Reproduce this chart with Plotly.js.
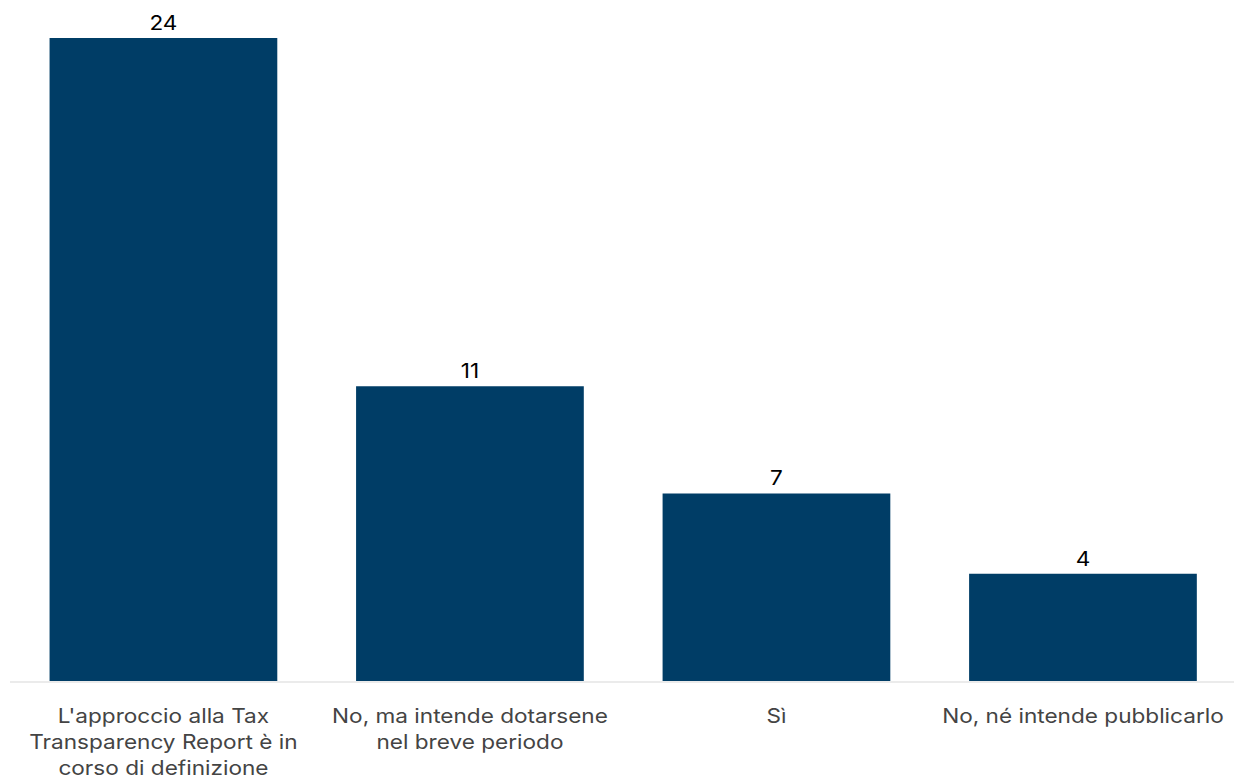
<!DOCTYPE html>
<html>
<head>
<meta charset="utf-8">
<script src="https://cdn.plot.ly/plotly-3.0.1.min.js"></script>
<style>
html,body{margin:0;padding:0;background:#fff;overflow:hidden;}
#wrap{width:1234px;height:781px;overflow:hidden;}
#chart{width:1094px;height:781px;transform:scaleX(1.13);transform-origin:0 0;}
</style>
</head>
<body>
<div id="wrap"><div id="chart"></div></div>
<script>
const categories = [
  "L'approccio alla Tax<br>Transparency Report è in<br>corso di definizione",
  "No, ma intende dotarsene<br>nel breve periodo",
  "Sì",
  "No, né intende pubblicarlo"
];
const values = [24, 11, 7, 4];

const trace = {
  type: 'bar',
  x: categories,
  y: values,
  text: values.map(String),
  textposition: 'outside',
  cliponaxis: false,
  textfont: {family: 'Inter, sans-serif', size: 20, color: '#000000'},
  marker: {color: '#003D66'},
  hoverinfo: 'skip'
};

const layout = {
  width: 1094,
  height: 781,
  margin: {l: 8.6, r: 0, t: 38, b: 100},
  paper_bgcolor: '#ffffff',
  plot_bgcolor: '#ffffff',
  bargap: 0.257,
  showlegend: false,
  font: {family: 'Inter, sans-serif'},
  xaxis: {
    type: 'category',
    showline: true,
    linecolor: '#ebebeb',
    linewidth: 2,
    showgrid: false,
    zeroline: false,
    ticks: '',
    ticklabelstandoff: 16,
    tickfont: {family: 'Inter, sans-serif', size: 20, color: '#444444'}
  },
  yaxis: {
    range: [0, 24],
    visible: false,
    showgrid: false,
    zeroline: false
  }
};

Plotly.newPlot('chart', [trace], layout, {displayModeBar: false, staticPlot: true});
</script>
</body>
</html>
